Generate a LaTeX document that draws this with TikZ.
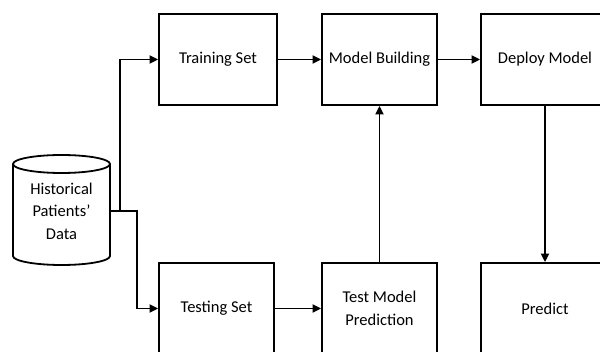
\documentclass[tikz,border=0pt]{standalone}
\usepackage{fontspec}
\setmainfont{Carlito}
\usetikzlibrary{arrows.meta}
\begin{document}
\begin{tikzpicture}[x=1pt,y=-1pt,
  txt/.style={font=\fontsize{16.5pt}{22.5pt}\selectfont, align=center, inner sep=0pt},
  box/.style={txt, draw, line width=1.8pt, minimum height=91pt},
  flow/.style={line width=1.8pt, -{Triangle[length=8.5pt,width=8pt]}},
  outline/.style={line width=1.8pt}]
\useasboundingbox (0,0) rectangle (600,352);
\clip (0,0) rectangle (600,352);

% data store
\node[txt, minimum width=97pt, minimum height=110pt] (data) at (61.5,211)
  {Historical\\Patients’\\Data};
\draw[outline] (13,164) -- (13,256)
  arc[start angle=180, end angle=360, x radius=48.5pt, y radius=9pt]
  -- (110,164)
  arc[start angle=0, end angle=180, x radius=48.5pt, y radius=9pt] -- cycle;
\draw[outline] (13,164)
  arc[start angle=180, end angle=360, x radius=48.5pt, y radius=9pt];

% process boxes
\node[box, minimum width=118pt] (train)   at (218,59.5)  {Training Set};
\node[box, minimum width=115pt] (build)   at (379.5,59.5) {Model Building};
\node[box, minimum width=128pt] (deploy)  at (545,59.5)  {Deploy Model};
\node[box, minimum width=115pt] (testset) at (216.5,308.5) {Testing Set};
\node[box, minimum width=115pt] (testpred) at (379.5,308.5) {Test Model\\Prediction};
\node[box, minimum width=128pt] (predict) at (545,308.5) {Predict};

% connectors
\draw[flow] (data.east) -- ++(10,0) |- (train.west);
\draw[flow] (data.east) -- ++(27,0) |- (testset.west);
\draw[flow] (train) -- (build);
\draw[flow] (build) -- (deploy);
\draw[flow] (testset) -- (testpred);
\draw[flow] (testpred) -- (build);
\draw[flow] (deploy) -- (predict);
\end{tikzpicture}
\end{document}
